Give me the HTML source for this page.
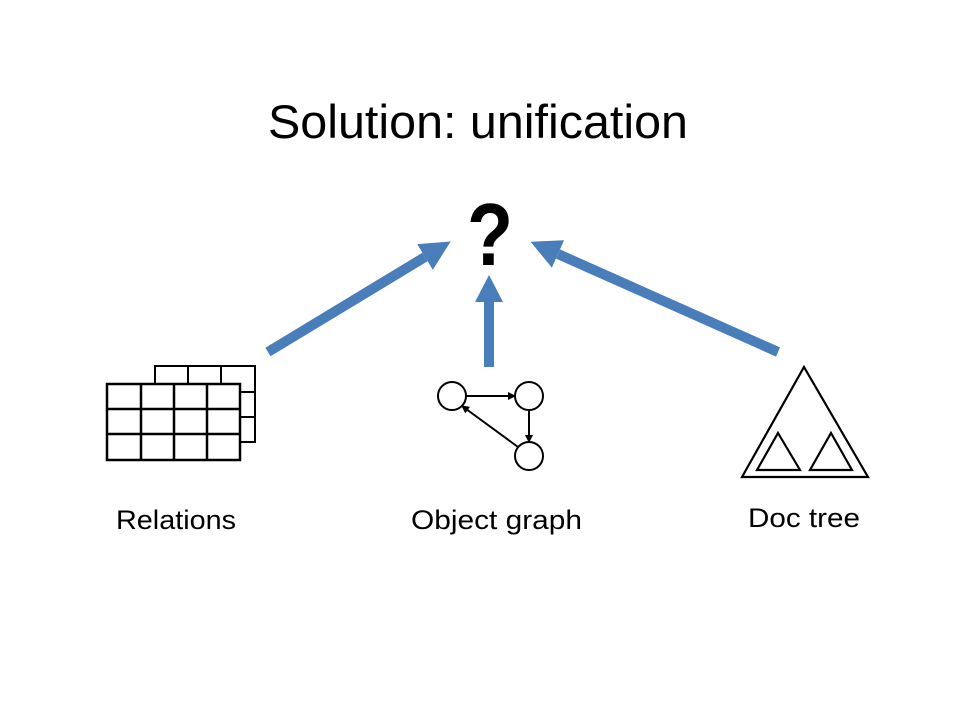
<!DOCTYPE html>
<html><head><style>
body{margin:0;background:#fff;}
svg text{font-family:"Liberation Sans",sans-serif;fill:#000;}
</style></head><body>
<svg width="960" height="720" xmlns="http://www.w3.org/2000/svg">
<defs>
<marker id="ah" markerWidth="3" markerHeight="3" refX="0" refY="1.5" orient="auto" markerUnits="strokeWidth">
<path d="M0,0 L3,1.5 L0,3 z" fill="#4a7ebb"/></marker>
<marker id="sa" markerWidth="8" markerHeight="8" refX="7" refY="4" orient="auto" markerUnits="userSpaceOnUse">
<path d="M0,0 L8,4 L0,8 z" fill="#000"/></marker>
</defs>
<text x="478" y="138" font-size="47" text-anchor="middle" textLength="420" lengthAdjust="spacingAndGlyphs">Solution: unification</text>
<text x="490" y="265" font-size="88" font-weight="bold" text-anchor="middle" textLength="46" lengthAdjust="spacingAndGlyphs">?</text>
<!-- arrows -->
<line x1="268" y1="352" x2="425" y2="257" stroke="#4a7ebb" stroke-width="10" marker-end="url(#ah)"/>
<line x1="489" y1="367" x2="489" y2="302" stroke="#4a7ebb" stroke-width="10"/>
<polygon points="475,302 503,302 489,275" fill="#4a7ebb"/>
<line x1="778" y1="352" x2="558" y2="254" stroke="#4a7ebb" stroke-width="10" marker-end="url(#ah)"/>
<!-- back table -->
<g stroke="#000" stroke-width="2" fill="#fff">
<rect x="155" y="366" width="100" height="76"/>
<line x1="188" y1="366" x2="188" y2="384"/><line x1="221" y1="366" x2="221" y2="384"/>
<line x1="240" y1="392" x2="255" y2="392"/><line x1="240" y1="417" x2="255" y2="417"/>
</g>
<g stroke="#000" stroke-width="2.5" fill="#fff">
<rect x="107" y="384" width="133" height="76"/>
<line x1="141" y1="384" x2="141" y2="460"/><line x1="174" y1="384" x2="174" y2="460"/><line x1="207" y1="384" x2="207" y2="460"/>
<line x1="107" y1="409" x2="240" y2="409"/><line x1="107" y1="434" x2="240" y2="434"/>
</g>
<!-- graph -->
<g stroke="#000" stroke-width="2" fill="#fff">
<circle cx="452" cy="396" r="14"/><circle cx="529" cy="396" r="14"/><circle cx="529" cy="456" r="14"/>
<line x1="466" y1="396" x2="515" y2="396" marker-end="url(#sa)"/>
<line x1="529" y1="410" x2="529" y2="442" marker-end="url(#sa)"/>
<line x1="518" y1="447" x2="462" y2="406" marker-end="url(#sa)"/>
</g>
<!-- tree -->
<g stroke="#000" stroke-width="2.2" fill="none">
<polygon points="804,367 868,477 742,477"/>
<polygon points="778,433 800,470 757,470"/>
<polygon points="831,433 852,470 810,470"/>
</g>
<text x="116" y="529" font-size="27" textLength="120" lengthAdjust="spacingAndGlyphs">Relations</text>
<text x="411" y="529" font-size="27" textLength="171" lengthAdjust="spacingAndGlyphs">Object graph</text>
<text x="748" y="527" font-size="27" textLength="112" lengthAdjust="spacingAndGlyphs">Doc tree</text>
</svg>
</body></html>
